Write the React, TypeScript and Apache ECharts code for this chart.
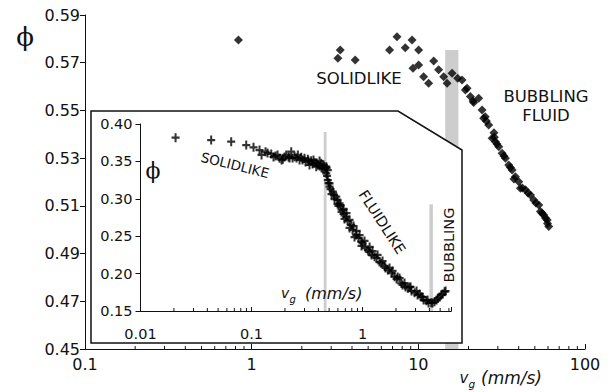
import React, { useEffect, useRef } from "react";
import * as echarts from "echarts";

// ---- Main panel data (diamonds) ----
const MAIN_VG = [
  0.833, 3.40, 3.29, 4.18, 6.72, 7.45, 8.35, 9.17, 10.04, 9.29, 10.04, 10.76, 11.53,
  12.36, 13.24, 14.19, 14.87, 15.94, 17.22, 18.30, 19.16, 19.61, 20.53, 21.30, 21.48,
  23.02, 24.13, 24.67, 25.2, 25.61, 26.44, 27.72, 28.41, 28.6, 29.01, 29.62, 30.37, 31.82,
  32.62, 33.31, 34.86, 35.69, 36.54, 37.46, 38.24, 40.04, 41.0, 42.13, 43.93, 45.48, 47.08,
  49.27, 50.78, 52.79, 54.05, 55.17, 56.58, 57.92, 59.29, 59.55, 60.62,
];
const MAIN_PHI = [
  0.5795, 0.5753, 0.5719, 0.5711, 0.5753, 0.5809, 0.5763, 0.5795, 0.5753, 0.5677, 0.569, 0.5641, 0.5614,
  0.5707, 0.567, 0.5641, 0.5614, 0.5656, 0.5635, 0.5628, 0.5586, 0.5593, 0.5558, 0.554, 0.5533,
  0.5551, 0.5502, 0.5467, 0.5474, 0.5456, 0.5439, 0.5383, 0.5406, 0.5388, 0.5369, 0.5359, 0.5348, 0.5321,
  0.5309, 0.53, 0.5271, 0.5261, 0.525, 0.5213, 0.5222, 0.5201, 0.5174, 0.5175, 0.5167, 0.5154, 0.5146,
  0.5125, 0.5112, 0.5104, 0.5076, 0.507, 0.5062, 0.5049, 0.5041, 0.5026, 0.5013,
];

// ---- Inset data (crosses) ----
const INSET_VG = [
  0.0207, 0.0433, 0.0656, 0.0896, 0.1042, 0.118, 0.1231, 0.1337, 0.1394, 0.1505, 0.1578,
  0.1645, 0.1715, 0.1788, 0.1863, 0.1914, 0.1983, 0.2054, 0.2154, 0.22, 0.2278, 0.2341,
  0.244, 0.2543, 0.2614, 0.2707, 0.2804, 0.2881, 0.3002, 0.3066, 0.3215, 0.3262, 0.333,
  0.3449, 0.3543, 0.3618, 0.3694, 0.3828, 0.3851, 0.3957, 0.4099, 0.4099, 0.4245, 0.4272,
  0.4387, 0.4452, 0.4546, 0.471, 0.474, 0.4867, 0.471, 0.4788, 0.4867, 0.4939, 0.5042,
  0.5042, 0.5148, 0.5255, 0.5401, 0.5535, 0.5593, 0.5797, 0.5953, 0.5955, 0.6077, 0.6208,
  0.6335, 0.6468, 0.6646, 0.6742, 0.6742, 0.6882, 0.7129, 0.7176, 0.7326, 0.7636, 0.7636,
  0.791, 0.8127, 0.8297, 0.8471, 0.8774, 0.8829, 0.9204, 0.9397, 0.9734, 0.9795, 1.0,
  1.042, 1.064, 1.116, 1.157, 1.157, 1.205, 1.23, 1.283, 1.337, 1.365, 1.423, 1.474,
  1.514, 1.578, 1.611, 1.69, 1.751, 1.825, 1.863, 1.942, 2.024, 2.067, 2.154, 2.232,
  2.293, 2.39, 2.44, 2.559, 2.65, 2.706, 2.763, 2.942, 3.066, 3.13, 3.263, 3.38,
  3.471, 3.544, 3.749, 3.851, 3.932, 4.158, 4.271, 4.453, 4.642, 4.768, 4.939, 5.117,
  5.257, 5.48, 5.594,
];
const INSET_PHI = [
  0.3817, 0.3786, 0.3763, 0.3719, 0.3688, 0.3652, 0.3586, 0.363, 0.3612, 0.3599, 0.3559,
  0.3572, 0.3586, 0.3541, 0.3519, 0.3528, 0.3559, 0.3586, 0.3559, 0.3545, 0.363, 0.3545,
  0.3563, 0.3545, 0.3586, 0.3519, 0.3555, 0.3519, 0.3541, 0.3492, 0.3528, 0.3505, 0.3452,
  0.3509, 0.3465, 0.3519, 0.3483, 0.3429, 0.3479, 0.3452, 0.3438, 0.3505, 0.3475, 0.3412,
  0.3408, 0.3452, 0.3398, 0.3429, 0.3412, 0.3385, 0.3341, 0.3305, 0.3251, 0.3211, 0.3207,
  0.3162, 0.3131, 0.3064, 0.3095, 0.3051, 0.2997, 0.3028, 0.2984, 0.293, 0.2904, 0.294,
  0.2917, 0.2824, 0.285, 0.2864, 0.2797, 0.273, 0.2761, 0.281, 0.2703, 0.261, 0.2717,
  0.265, 0.2583, 0.2636, 0.2489, 0.2516, 0.257, 0.2476, 0.2516, 0.2426, 0.2369, 0.2409,
  0.2436, 0.2342, 0.2316, 0.2356, 0.2289, 0.2249, 0.2302, 0.2226, 0.2209, 0.2249, 0.2155, 0.2138,
  0.2168, 0.2102, 0.2075, 0.2048, 0.2075, 0.2008, 0.2035, 0.1959, 0.1928, 0.1955, 0.1941, 0.187,
  0.1848, 0.1874, 0.1821, 0.1803, 0.1821, 0.1821, 0.1767, 0.1745, 0.1767, 0.1714, 0.1727, 0.1691,
  0.1687, 0.1647, 0.1638, 0.1647, 0.1607, 0.1611, 0.1607, 0.1624, 0.1647, 0.167, 0.1687, 0.1714,
  0.1727, 0.1758, 0.1767,
];

// ---- Axes ----
const MAIN_X_LABELS = ["0.1", "1", "10", "100"];
const INSET_X_LABELS = ["0.01", "0.1", "1"];
const MAIN_MINOR = [
  0.2, 0.3, 0.4, 0.5, 0.6, 0.7, 0.8, 0.9,
  2, 3, 4, 5, 6, 7, 8, 9,
  20, 30, 40, 50, 60, 70, 80, 90,
];
const INSET_MINOR = [
  0.02, 0.03, 0.04, 0.05, 0.06, 0.07, 0.08, 0.09,
  0.2, 0.3, 0.4, 0.5, 0.6, 0.7, 0.8, 0.9,
  2, 3, 4, 5, 6,
];

// ---- Regime bands: [vgFrom, vgTo, phiFrom, phiTo] ----
const MAIN_BANDS = [[14.5, 17.4, 0.45, 0.5753]];
const INSET_BANDS = [
  [0.447, 0.474, 0.15, 0.3893],
  [4.0, 4.3, 0.15, 0.2926],
];

const SANS = '"DejaVu Sans", "Liberation Sans", sans-serif';
const SERIF = '"DejaVu Serif", "Liberation Serif", serif';
const INK = "#111";
const BAND = "#cdcdcd";

const xFmt = (list: string[]) => (v: number) => {
  const s = String(+Number(v).toPrecision(6));
  return list.includes(s) ? s : "";
};

const tickSeries = (idx: number, values: number[], yBase: number, len: number, z: number) => ({
  type: "custom",
  xAxisIndex: idx,
  yAxisIndex: idx,
  z,
  silent: true,
  clip: false,
  data: values.map((v) => [v, yBase]),
  renderItem: (_p: any, api: any) => {
    const p = api.coord([api.value(0), api.value(1)]);
    return {
      type: "line",
      shape: { x1: p[0], y1: p[1], x2: p[0], y2: p[1] - len },
      style: { stroke: INK, lineWidth: 1 },
    };
  },
});

const bandSeries = (idx: number, bands: number[][], z: number) => ({
  type: "custom",
  xAxisIndex: idx,
  yAxisIndex: idx,
  z,
  silent: true,
  clip: false,
  data: bands,
  renderItem: (_p: any, api: any) => {
    const a = api.coord([api.value(0), api.value(3)]);
    const b = api.coord([api.value(1), api.value(2)]);
    return {
      type: "rect",
      shape: { x: a[0], y: a[1], width: b[0] - a[0], height: b[1] - a[1] },
      style: { fill: BAND },
    };
  },
});

const txt = (
  text: string,
  x: number,
  y: number,
  size: number,
  o: { rot?: number; italic?: boolean; family?: string; align?: string } = {}
) => ({
  type: "text",
  x,
  y,
  z: 20,
  rotation: ((o.rot || 0) * Math.PI) / 180,
  style: {
    text,
    fill: INK,
    fontSize: size,
    fontFamily: o.family || SANS,
    fontStyle: o.italic ? "italic" : "normal",
    align: o.align || "center",
    verticalAlign: "middle",
    textAlign: o.align || "center",
    textVerticalAlign: "middle",
  },
});

export default function App() {
  const ref = useRef<HTMLDivElement>(null);
  useEffect(() => {
    if (!ref.current) return;
    const chart = echarts.init(ref.current, undefined, { renderer: "svg" });
    const axisLine = { show: true, lineStyle: { color: INK, width: 1 } };
    chart.setOption({
      animation: false,
      backgroundColor: "#fff",
      grid: [
        { left: 85, top: 15, width: 500, height: 334 },
        { left: 140.5, top: 124, width: 310.8, height: 187 },
      ],
      xAxis: [
        {
          gridIndex: 0,
          type: "log",
          logBase: 10,
          min: 0.1,
          max: 100,
          axisLine,
          axisTick: { show: true, inside: true, length: 5, lineStyle: { color: INK } },
          axisLabel: { formatter: xFmt(MAIN_X_LABELS), fontSize: 16, fontFamily: SANS, color: INK, margin: 7 },
          splitLine: { show: false },
        },
        {
          gridIndex: 1,
          type: "log",
          logBase: 10,
          min: 0.01,
          max: 6.3,
          z: 10,
          axisLine,
          axisTick: { show: true, inside: true, length: 4, lineStyle: { color: INK } },
          axisLabel: { formatter: xFmt(INSET_X_LABELS), fontSize: 14.5, fontFamily: SANS, color: INK, margin: 15 },
          splitLine: { show: false },
        },
      ],
      yAxis: [
        {
          gridIndex: 0,
          type: "value",
          min: 0.45,
          max: 0.59,
          interval: 0.02,
          axisLine,
          axisTick: { show: true, inside: false, length: 5, lineStyle: { color: INK } },
          axisLabel: { formatter: (v: number) => v.toFixed(2), fontSize: 16, fontFamily: SANS, color: INK, margin: 5 },
          splitLine: { show: false },
        },
        {
          gridIndex: 1,
          type: "value",
          min: 0.15,
          max: 0.4,
          interval: 0.05,
          z: 10,
          axisLine,
          axisTick: { show: true, inside: false, length: 5, lineStyle: { color: INK } },
          axisLabel: { formatter: (v: number) => v.toFixed(2), fontSize: 14.5, fontFamily: SANS, color: INK, margin: 8 },
          splitLine: { show: false },
        },
      ],
      series: [
        bandSeries(0, MAIN_BANDS, 1),
        {
          type: "scatter",
          xAxisIndex: 0,
          yAxisIndex: 0,
          z: 2,
          symbol: "diamond",
          symbolSize: 9,
          itemStyle: { color: "#000" },
          data: MAIN_VG.map((v, i) => [v, MAIN_PHI[i]]),
        },
        tickSeries(0, MAIN_MINOR, 0.45, 3, 2),
        bandSeries(1, INSET_BANDS, 11),
        tickSeries(1, INSET_MINOR, 0.15, 3, 12),
        {
          type: "scatter",
          xAxisIndex: 1,
          yAxisIndex: 1,
          z: 13,
          symbol: "path://M3 0H5V3H8V5H5V8H3V5H0V3H3Z",
          symbolSize: [8, 9],
          itemStyle: { color: "#000" },
          data: INSET_VG.map((v, i) => [v, INSET_PHI[i]]),
        },
      ],
      graphic: {
        elements: [
          {
            type: "polygon",
            z: 5,
            shape: { points: [[91, 111], [398, 111], [462, 150], [462, 343], [91, 343]] },
            style: { fill: "#fff", stroke: INK, lineWidth: 1.5 },
          },
          txt("\u03d5", 25, 37, 26, { family: SERIF }),
          txt("\u03d5", 153, 170, 22, { family: SERIF }),
          txt("SOLIDLIKE", 359, 78, 16.5),
          txt("BUBBLING", 546, 96, 16.5),
          txt("FLUID", 546, 115, 16.5),
          txt("SOLIDLIKE", 235, 165, 13.5, { rot: -14 }),
          txt("FLUIDLIKE", 382, 222, 14.5, { rot: -57 }),
          txt("BUBBLING", 448.5, 245, 14.5, { rot: 90 }),
          txt("v", 459.5, 378, 15, { italic: true, align: "left" }),
          txt("g", 468.5, 384, 10.5, { italic: true, align: "left" }),
          txt("(mm/s)", 481, 378, 17, { italic: true, align: "left" }),
          txt("v", 281, 293, 14, { italic: true, align: "left" }),
          txt("g", 289.5, 299, 10, { italic: true, align: "left" }),
          txt("(mm/s)", 305, 293, 16, { italic: true, align: "left" }),
        ],
      },
    });
    return () => chart.dispose();
  }, []);
  return (
    <div
      ref={ref}
      style={{ position: "fixed", left: 0, top: 0, width: 611, height: 392, background: "#fff" }}
    />
  );
}
